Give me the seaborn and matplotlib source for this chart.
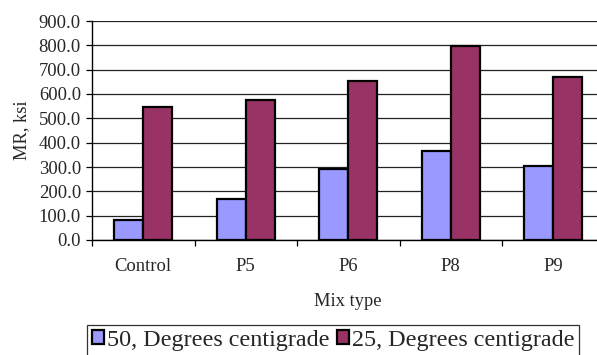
import matplotlib
matplotlib.use("Agg")
import matplotlib.pyplot as plt
import seaborn as sns
import pandas as pd
from matplotlib.ticker import FixedLocator, FormatStrFormatter

mix_types = ["Control", "P5", "P6", "P8", "P9"]
series_names = ["50, Degrees centigrade", "25, Degrees centigrade"]
mr_50c = [82, 168, 292, 366, 303]
mr_25c = [545, 577, 653, 799, 670]
colors = ["#9999FF", "#993366"]

df = pd.DataFrame({
    "Mix type": mix_types * 2,
    "Temperature": [series_names[0]] * len(mix_types) + [series_names[1]] * len(mix_types),
    "MR": mr_50c + mr_25c,
})

sns.set_style("white")
plt.rcParams["font.family"] = ["Liberation Serif", "DejaVu Serif"]

fig = plt.figure(figsize=(5.97, 3.55), dpi=100)
# plot area runs off the right edge of the canvas
ax = fig.add_axes([92 / 597, 115 / 355, 512.5 / 597, 219 / 355])

sns.barplot(data=df, x="Mix type", y="MR", hue="Temperature",
            palette=colors, width=0.57, edgecolor="black", linewidth=1.6,
            saturation=1, ax=ax, legend=True, zorder=3)

ax.set_ylim(0, 900)
ax.set_xlim(-0.5, len(mix_types) - 0.5)
ax.yaxis.set_major_locator(FixedLocator(range(0, 901, 100)))
ax.yaxis.set_major_formatter(FormatStrFormatter("%.1f"))
ax.grid(axis="y", color="#222222", linewidth=0.9, zorder=0)
ax.set_axisbelow(True)

for side in ["top", "right"]:
    ax.spines[side].set_visible(False)
for side in ["left", "bottom"]:
    ax.spines[side].set_color("black")
    ax.spines[side].set_linewidth(1.0)

ax.tick_params(axis="y", which="major", direction="out", length=4, width=0.9,
               color="black", labelsize=13.4, pad=4, left=True)
ax.tick_params(axis="x", which="major", length=0, labelsize=13.4, pad=13)
# category separators as minor ticks on the x axis
ax.set_xticks([i - 0.5 for i in range(len(mix_types) + 1)], minor=True)
ax.tick_params(axis="x", which="minor", direction="out", length=4, width=0.9,
               color="black", bottom=True)

ax.set_ylabel("MR, ksi", fontsize=13.2, labelpad=6)
ax.set_xlabel("Mix type", fontsize=13.2, labelpad=13)

handles, labels = ax.get_legend_handles_labels()
ax.get_legend().remove()
leg = fig.legend(handles, labels, loc="upper left",
                 bbox_to_anchor=(87 / 597, 1 - 325 / 355), ncol=2,
                 frameon=True, fancybox=False, edgecolor="black",
                 fontsize=17.4, handlelength=0.5, handleheight=0.5,
                 handletextpad=0.12, columnspacing=0.3, borderpad=0.2,
                 borderaxespad=0)
leg.get_frame().set_linewidth(0.9)

fig.savefig("out.png", dpi=100)
